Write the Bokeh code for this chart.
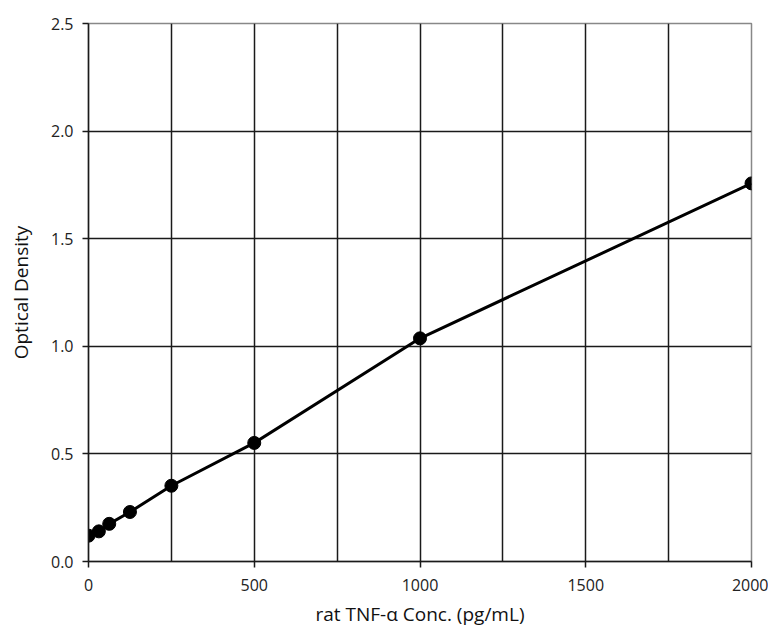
from bokeh.plotting import figure
from bokeh.models import Range1d, FixedTicker
from bokeh.embed import file_html
from bokeh.resources import INLINE

conc = [0, 31.25, 62.5, 125, 250, 500, 1000, 2000]
od = [0.12, 0.14, 0.175, 0.23, 0.352, 0.551, 1.037, 1.757]
x_ticks = [0, 500, 1000, 1500, 2000]
x_grid = [0, 250, 500, 750, 1000, 1250, 1500, 1750, 2000]
y_ticks = [0.0, 0.5, 1.0, 1.5, 2.0, 2.5]

FONT = "Open Sans"

p = figure(width=768, height=632, output_backend="svg", toolbar_location=None,
           x_range=Range1d(0, 2000), y_range=Range1d(0, 2.5),
           min_border_left=88, min_border_right=17, min_border_top=23, min_border_bottom=71)

p.background_fill_color = "white"
p.border_fill_color = "white"
p.outline_line_color = "#888888"
p.outline_line_width = 1.5

p.xaxis.ticker = FixedTicker(ticks=x_ticks)
p.yaxis.ticker = FixedTicker(ticks=y_ticks)
p.xaxis.major_label_overrides = {t: str(t) for t in x_ticks}
p.yaxis.major_label_overrides = {t: f"{t:.1f}" for t in y_ticks}
p.xgrid.ticker = FixedTicker(ticks=x_grid)
p.ygrid.ticker = FixedTicker(ticks=y_ticks)

for g in (p.xgrid, p.ygrid):
    g.grid_line_color = "#1a1a1a"
    g.grid_line_width = 1.5
    g.grid_line_alpha = 1.0

for ax in (p.xaxis, p.yaxis):
    ax.axis_line_color = "#1a1a1a"
    ax.axis_line_width = 1.5
    ax.major_tick_line_color = "#1a1a1a"
    ax.major_tick_line_width = 1.5
    ax.major_tick_out = 6
    ax.major_tick_in = 0
    ax.minor_tick_line_color = None
    ax.major_label_text_font = FONT
    ax.major_label_text_font_size = "16px"
    ax.major_label_text_color = "#222222"
    ax.axis_label_text_font = FONT
    ax.axis_label_text_font_size = "19px"
    ax.axis_label_text_font_style = "normal"
    ax.axis_label_text_color = "#111111"

p.xaxis.major_label_standoff = 11
p.yaxis.major_label_standoff = 9
p.xaxis.axis_label = "rat TNF-\u03b1 Conc. (pg/mL)"
p.yaxis.axis_label = "Optical Density"
p.xaxis.axis_label_standoff = 7
p.yaxis.axis_label_standoff = 14

p.line(conc, od, line_color="black", line_width=3)
p.scatter(conc, od, size=13, fill_color="black", line_color="black")

open("out.html", "w").write(file_html(p, INLINE))
